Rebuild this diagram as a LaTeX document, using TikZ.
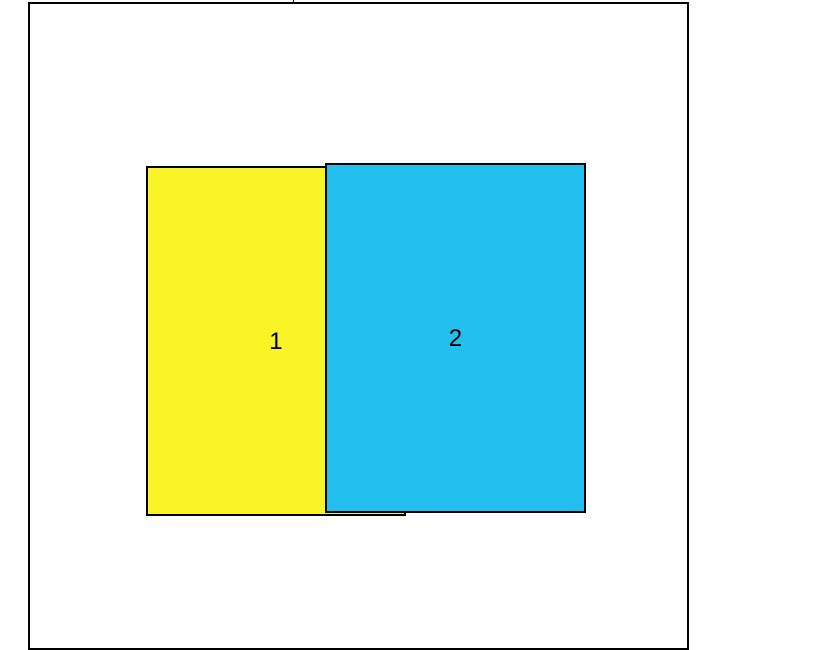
\documentclass[tikz,border=0pt]{standalone}
\usepackage{fontspec}
\setmainfont{Liberation Sans}
\usepackage{xcolor}
\usepackage{tikz}
\definecolor{tileYellow}{HTML}{F9F426}
\definecolor{tileBlue}{HTML}{22BFEF}
\begin{document}
\begin{tikzpicture}[
  x=1pt, y=1pt,
  font=\fontsize{24}{28}\selectfont,
  tile/.style={draw=black, line width=1.4pt, inner sep=0pt, outer sep=0pt},
  panel/.style={draw=black, line width=1.6pt, inner sep=0pt, outer sep=0pt,
                minimum width=659pt, minimum height=646pt}
]
  \useasboundingbox (0,0) rectangle (828,-649);
  \node[panel] (frame) at (358.5,-326) {};
  \coordinate (tick) at (293,0);
  \draw[line width=1pt] (tick) -- (tick |- frame.north);
  \node[tile, fill=tileYellow, minimum width=258pt, minimum height=348pt] (t1) at (276,-341) {1};
  \node[tile, fill=tileBlue, minimum width=259pt, minimum height=348pt] (t2) at (455.5,-338) {2};
\end{tikzpicture}
\end{document}
